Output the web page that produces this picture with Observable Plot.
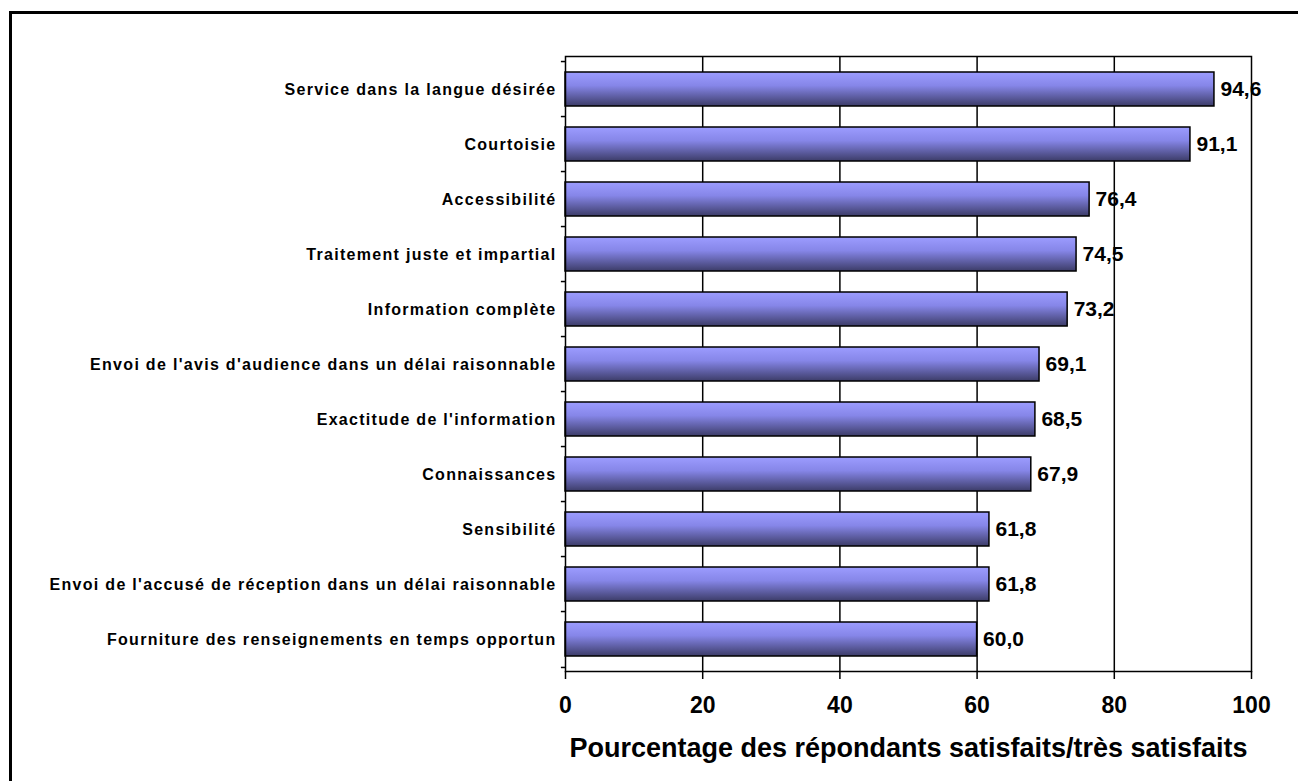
<!DOCTYPE html>
<html>
<head>
<meta charset="utf-8">
<script src="https://cdn.jsdelivr.net/npm/d3@7"></script>
<script src="https://cdn.jsdelivr.net/npm/@observablehq/plot@0.6"></script>
<style>
  html, body { margin: 0; padding: 0; background: #fff; }
  #wrap { position: relative; width: 1298px; height: 781px; overflow: hidden; }
  #border { position: absolute; left: 9px; top: 11px; width: 1300px; height: 780px;
            border-top: 3px solid #000; border-left: 3px solid #000; box-sizing: border-box; }
  #chart { position: absolute; left: 0; top: 0; }
  .bars g[aria-label="y-axis tick label"] text { letter-spacing: 1.3px; }
</style>
</head>
<body>
<div id="wrap"><div id="border"></div><div id="chart"></div></div>
<script>
const categories = [
  "Service dans la langue désirée",
  "Courtoisie",
  "Accessibilité",
  "Traitement juste et impartial",
  "Information complète",
  "Envoi de l'avis d'audience dans un délai raisonnable",
  "Exactitude de l'information",
  "Connaissances",
  "Sensibilité",
  "Envoi de l'accusé de réception dans un délai raisonnable",
  "Fourniture des renseignements en temps opportun"
];
const values = [94.6, 91.1, 76.4, 74.5, 73.2, 69.1, 68.5, 67.9, 61.8, 61.8, 60.0];
const xTicks = [0, 20, 40, 60, 80, 100];
const xTitle = "Pourcentage des répondants satisfaits/très satisfaits";

const data = categories.map((c, i) => ({category: c, value: values[i]}));
const fmt = v => d3.format(".1f")(v).replace(".", ",");
const halfStep = (781 - 56 - 110) / categories.length / 2;

const chart = Plot.plot({
  className: "bars",
  width: 1298,
  height: 781,
  marginLeft: 565,
  marginRight: 47,
  marginTop: 56,
  marginBottom: 110,
  style: {fontFamily: "'Liberation Sans', Arial, sans-serif", fontWeight: "bold", color: "#000", background: "transparent"},
  x: {domain: [0, 100], ticks: xTicks, label: null},
  y: {domain: categories, paddingInner: 0.39, paddingOuter: 0.195, label: null},
  marks: [
    Plot.gridX(xTicks.slice(1, -1), {stroke: "#000", strokeOpacity: 1, strokeWidth: 1.5}),
    Plot.barX(data, {x: "value", y: "category", fill: "url(#barGrad)", stroke: "#000", strokeWidth: 1.5}),
    Plot.frame({stroke: "#000", strokeWidth: 1.5}),
    Plot.axisX(xTicks, {tickSize: 8, tickPadding: 17, fontSize: 23, fontWeight: "bold", strokeWidth: 1.5}),
    Plot.axisY({tickSize: 0, tickPadding: 9, fontSize: 16, fontWeight: "bold"}),
    Plot.ruleY(categories, {y: d => d, x1: -0.6, x2: 0, dy: -halfStep, stroke: "#000", strokeWidth: 1.5}),
    Plot.ruleY(categories.slice(-1), {y: d => d, x1: -0.6, x2: 0, dy: halfStep, stroke: "#000", strokeWidth: 1.5}),
    Plot.text(data, {x: "value", y: "category", text: d => fmt(d.value), textAnchor: "start", dx: 6, fontSize: 21, fontWeight: "bold", fill: "#000"}),
    Plot.text([xTitle], {frameAnchor: "bottom", lineAnchor: "middle", dy: 77, fontSize: 27, fontWeight: "bold", fill: "#000"})
  ]
});

d3.select(chart).insert("defs", ":first-child").html(`
  <linearGradient id="barGrad" x1="0" y1="0" x2="0" y2="1">
    <stop offset="0" stop-color="#9c9cff"/>
    <stop offset="0.4" stop-color="#8686e8"/>
    <stop offset="1" stop-color="#3c3c68"/>
  </linearGradient>`);

document.getElementById("chart").appendChild(chart);
</script>
</body>
</html>
